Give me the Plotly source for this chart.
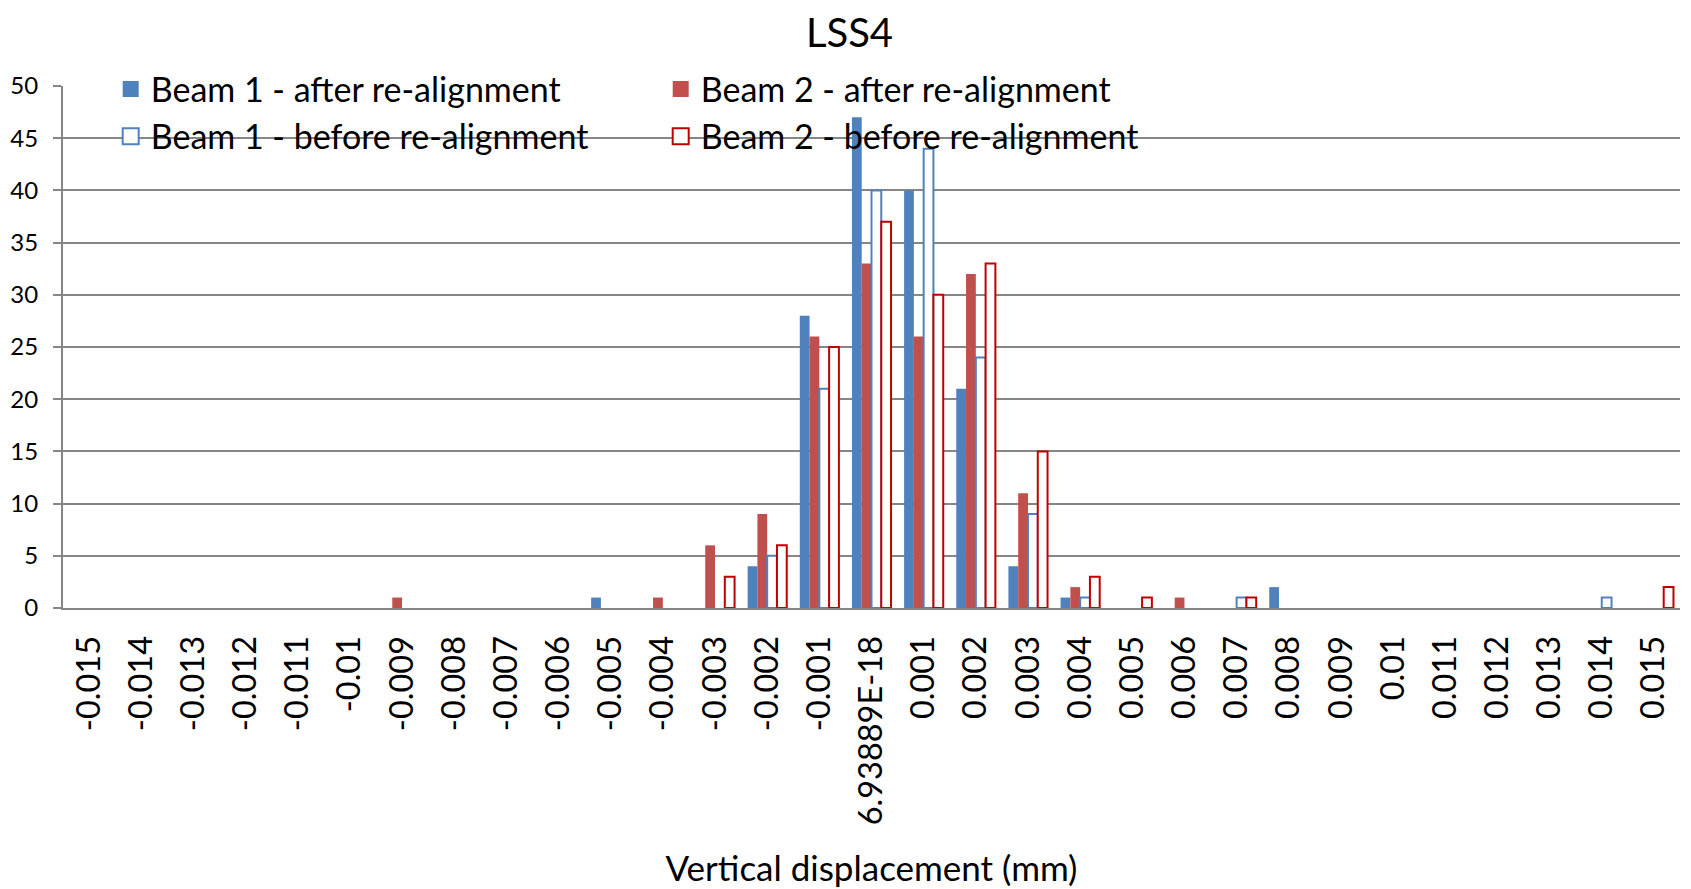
import plotly.graph_objects as go

categories = ["-0.015", "-0.014", "-0.013", "-0.012", "-0.011", "-0.01", "-0.009", "-0.008",
              "-0.007", "-0.006", "-0.005", "-0.004", "-0.003", "-0.002", "-0.001",
              "6.93889E-18", "0.001", "0.002", "0.003", "0.004", "0.005", "0.006", "0.007",
              "0.008", "0.009", "0.01", "0.011", "0.012", "0.013", "0.014", "0.015"]

beam1_after = [0, 0, 0, 0, 0, 0, 0, 0, 0, 0, 1, 0, 0, 4, 28, 47, 40, 21, 4, 1,
               0, 0, 0, 2, 0, 0, 0, 0, 0, 0, 0]
beam2_after = [0, 0, 0, 0, 0, 0, 1, 0, 0, 0, 0, 1, 6, 9, 26, 33, 26, 32, 11, 2,
               0, 1, 0, 0, 0, 0, 0, 0, 0, 0, 0]
beam1_before = [0, 0, 0, 0, 0, 0, 0, 0, 0, 0, 0, 0, 0, 5, 21, 40, 44, 24, 9, 1,
                0, 0, 1, 0, 0, 0, 0, 0, 0, 1, 0]
beam2_before = [0, 0, 0, 0, 0, 0, 0, 0, 0, 0, 0, 0, 3, 6, 25, 37, 30, 33, 15, 3,
                1, 0, 1, 0, 0, 0, 0, 0, 0, 0, 2]

series_names = ["Beam 1 - after re-alignment", "Beam 2 - after re-alignment",
                "Beam 1 - before re-alignment", "Beam 2 - before re-alignment"]

BLUE = "#4F81BD"
RED_F = "#C0504D"
RED_L = "#C00000"
GRID = "#868686"
FONT = "Lato"

styles = [
    dict(color=BLUE, line=dict(color=BLUE, width=0)),
    dict(color=RED_F, line=dict(color=RED_F, width=0)),
    dict(color="white", line=dict(color=BLUE, width=2)),
    dict(color="white", line=dict(color=RED_L, width=2)),
]

fig = go.Figure()
for name, vals, st in zip(series_names, [beam1_after, beam2_after, beam1_before, beam2_before], styles):
    fig.add_trace(go.Bar(x=categories, y=[v if v else None for v in vals], name=name,
                         marker=st, showlegend=False))

# legend entries with larger square symbols
for name, st in zip(series_names, styles):
    fig.add_trace(go.Scatter(
        x=[None], y=[None], mode="markers", name=name,
        marker=dict(symbol="square", size=18, color=st["color"],
                    line=dict(color=st["line"]["color"], width=2 if st["color"] == "white" else 0)),
    ))

fig.update_layout(
    width=1683, height=881,
    paper_bgcolor="white", plot_bgcolor="white",
    font=dict(family=FONT, color="black"),
    margin=dict(l=55, r=11, t=78, b=281),
    barmode="group", bargap=0.25, bargroupgap=0,
    title=dict(text="LSS4", x=0.5, xanchor="center", y=0.9716, yanchor="middle",
               yref="container", font=dict(size=40, family=FONT, color="black")),
    legend=dict(orientation="h", x=0.0295, xanchor="left", y=1.049, yanchor="top",
                bgcolor="rgba(0,0,0,0)", font=dict(size=34, family=FONT, color="black"),
                entrywidth=505, tracegroupgap=0, itemwidth=30),
    showlegend=True,
)

fig.update_xaxes(
    type="category", tickangle=-90, tickfont=dict(size=32.5, family=FONT, color="black"),
    showline=True, linecolor=GRID, linewidth=2, showgrid=False, ticks="",
    ticklabelstandoff=13,
    title=dict(text="Vertical displacement (mm)", font=dict(size=35, family=FONT, color="black"),
               standoff=32),
    automargin=False,
)
fig.update_yaxes(
    range=[0, 50], dtick=5, tickfont=dict(size=24, family=FONT, color="black"),
    showline=True, linecolor=GRID, linewidth=2, showgrid=True, gridcolor=GRID, gridwidth=2,
    ticks="outside", ticklen=8, tickcolor=GRID, tickwidth=2, ticklabelstandoff=10,
    zeroline=False, automargin=False,
)

fig.write_html("out.html")
